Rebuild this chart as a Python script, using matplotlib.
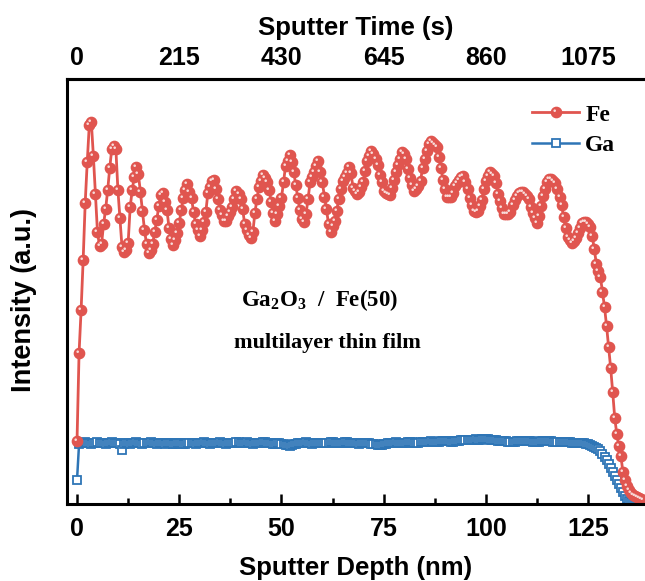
import numpy as np
import matplotlib
matplotlib.use("Agg")
import matplotlib.pyplot as plt
from matplotlib.path import Path

# depth step of the profile (nm) and time per nm for the top axis
step_nm = 0.5
sec_per_nm = 8.6

fe = [
    63, 151, 194, 244, 301, 342, 379, 382, 348, 310, 272, 258, 260, 280, 295, 314, 336, 355, 358, 355,
    314, 286, 257, 252, 254, 261, 297, 314, 327, 337, 330, 312, 293, 274, 260, 251, 254, 260, 272, 284,
    298, 309, 311, 302, 294, 276, 265, 259, 264, 271, 281, 294, 306, 314, 320, 312, 306, 292, 280, 274,
    268, 274, 282, 292, 311, 317, 323, 324, 315, 305, 294, 289, 283, 283, 288, 292, 297, 305, 313, 310,
    305, 295, 280, 274, 269, 266, 272, 291, 305, 317, 323, 329, 326, 322, 314, 302, 291, 283, 290, 298,
    306, 322, 338, 343, 349, 342, 332, 319, 306, 294, 285, 282, 290, 305, 322, 327, 332, 338, 343, 332,
    322, 307, 295, 280, 272, 278, 283, 293, 305, 315, 323, 327, 331, 337, 331, 316, 313, 310, 312, 317,
    322, 333, 343, 348, 353, 350, 345, 339, 329, 322, 313, 311, 310, 309, 316, 324, 332, 339, 345, 352,
    350, 345, 335, 326, 319, 313, 315, 318, 323, 336, 345, 353, 360, 363, 361, 359, 357, 347, 336, 324,
    315, 307, 307, 307, 311, 318, 321, 324, 327, 328, 322, 315, 306, 299, 293, 292, 293, 298, 304, 315,
    323, 328, 332, 330, 328, 321, 310, 303, 296, 290, 290, 290, 292, 299, 304, 308, 311, 312, 312, 310,
    308, 305, 297, 291, 286, 281, 288, 298, 308, 315, 322, 325, 325, 323, 321, 315, 307, 299, 287, 276,
    267, 264, 261, 263, 266, 271, 276, 281, 282, 282, 280, 277, 268, 255, 240, 233, 227, 212, 197, 178,
    157, 136, 112, 86, 70, 58, 48, 32, 24, 18, 14, 11, 9, 8, 7, 6, 5, 4,
]

ga = [
    24, 60, 61, 61, 62, 61, 61, 60, 61, 61, 62, 61, 61, 61, 60, 61, 61, 62, 61, 61,
    61, 60, 54, 60, 61, 61, 60, 61, 61, 62, 61, 61, 60, 61, 61, 61, 62, 61, 61, 60,
    61, 61, 61, 60, 61, 61, 61, 60, 60, 61, 61, 61, 60, 60, 61, 61, 61, 61, 60, 61,
    61, 61, 62, 61, 61, 60, 61, 61, 61, 61, 62, 61, 61, 60, 61, 61, 61, 61, 62, 62,
    61, 61, 61, 62, 61, 61, 60, 61, 61, 61, 61, 62, 62, 61, 61, 61, 60, 60, 61, 61,
    60, 60, 59, 59, 58, 59, 60, 60, 61, 61, 61, 61, 62, 61, 61, 60, 61, 61, 61, 61,
    61, 61, 61, 61, 62, 62, 61, 61, 61, 61, 61, 62, 62, 61, 61, 61, 61, 61, 60, 61,
    61, 61, 61, 61, 60, 60, 60, 59, 59, 59, 60, 60, 61, 61, 61, 61, 62, 61, 61, 61,
    61, 61, 62, 62, 62, 61, 61, 61, 62, 62, 62, 62, 62, 63, 62, 62, 62, 62, 63, 63,
    63, 63, 63, 62, 62, 63, 63, 63, 64, 64, 64, 64, 64, 64, 64, 65, 64, 64, 65, 65,
    65, 65, 64, 64, 64, 64, 63, 63, 63, 63, 63, 62, 62, 62, 62, 63, 63, 63, 63, 63,
    63, 63, 63, 62, 62, 62, 62, 63, 63, 63, 63, 63, 63, 62, 62, 62, 62, 62, 62, 62,
    62, 62, 61, 61, 61, 61, 61, 61, 61, 60, 60, 59, 58, 57, 56, 55, 53, 50, 47, 44,
    40, 36, 32, 28, 24, 20, 16, 12, 8, 5, 3, 2, 1, 1, 1, 1, 1, 1,
]

depth = np.arange(len(fe)) * step_nm

depth_ticks = [0, 25, 50, 75, 100, 125]
time_ticks = [0, 215, 430, 645, 860, 1075]

red = "#E0554F"
blue = "#2E75B6"

plt.rcParams["font.family"] = "Liberation Sans"
plt.rcParams["font.weight"] = "bold"
plt.rcParams["mathtext.fontset"] = "custom"
plt.rcParams["mathtext.rm"] = "Liberation Serif:bold"
plt.rcParams["mathtext.bf"] = "Liberation Serif:bold"

fig = plt.figure(figsize=(6.45, 5.81), dpi=100)
ax = fig.add_axes([67 / 645, 77 / 581, 1 - 67 / 645, 425 / 581])

# shiny highlight drawn on top of each Fe ball
hl = Path.circle((-0.35, 0.35), 0.25)
hl_path = Path(np.vstack([[[-1, -1], [1, 1]], hl.vertices]),
               [Path.MOVETO, Path.MOVETO] + list(hl.codes))

ga_line, = ax.plot(depth, ga, color=blue, lw=1.8, marker="s", ms=6,
                   mfc="white", mec=blue, mew=1.3, label="Ga")
fe_line, = ax.plot(depth, fe, color=red, lw=2.0, marker="o", ms=7.4,
                   mfc=red, mec=red, label="Fe")
hl_line, = ax.plot(depth, fe, ls="none", marker=hl_path, ms=7.4,
                   mfc="#F8DCDA", mec="none")

ax.set_xlim(-2.45, 138.9)
ax.set_ylim(0, 425)
ax.set_yticks([])
ax.set_xticks(depth_ticks)
ax.set_xticks(np.arange(12.5, 139, 25), minor=True)
ax.tick_params(axis="x", which="major", direction="in", length=7, width=1.8,
               labelsize=18, pad=9)
ax.tick_params(axis="x", which="minor", direction="in", length=4, width=1.8)
for s in ["left", "bottom", "top"]:
    ax.spines[s].set_linewidth(2.2)
ax.spines["right"].set_visible(False)

ax.set_xlabel("Sputter Depth (nm)", fontsize=18.5, fontweight="bold", labelpad=11)
ax.set_ylabel("Intensity (a.u.)", fontsize=19.5, fontweight="bold")
ax.yaxis.set_label_coords(-0.052, 0.48)

top = ax.secondary_xaxis("top", functions=(lambda d: d * sec_per_nm,
                                           lambda t: t / sec_per_nm))
top.set_xticks(time_ticks)
top.tick_params(length=0, labelsize=18, pad=6.5)
top.spines["top"].set_linewidth(2.2)
top.set_xlabel("Sputter Time (s)", fontsize=18.5, fontweight="bold", labelpad=8)

ax.text(0.437, 0.48, "Ga$_{\\mathbf{2}}$O$_{\\mathbf{3}}$\u2002/\u2002Fe(50)",
        transform=ax.transAxes, ha="center", va="center", fontsize=16.5,
        fontweight="bold", family="Liberation Serif")
ax.text(0.45, 0.379, "multilayer thin film", transform=ax.transAxes,
        ha="center", va="center", fontsize=16, fontweight="bold",
        family="Liberation Serif")

leg = ax.legend([(fe_line, hl_line), ga_line], ["Fe", "Ga"],
                loc="upper left", bbox_to_anchor=(532 / 645, 1 - 104 / 581),
                bbox_transform=fig.transFigure, frameon=False, borderpad=0,
                borderaxespad=0, handlelength=2.0, handletextpad=0.25,
                labelspacing=0.37, prop={"family": "Liberation Serif",
                                         "weight": "bold", "size": 17})

fig.savefig("out.png", dpi=100)
